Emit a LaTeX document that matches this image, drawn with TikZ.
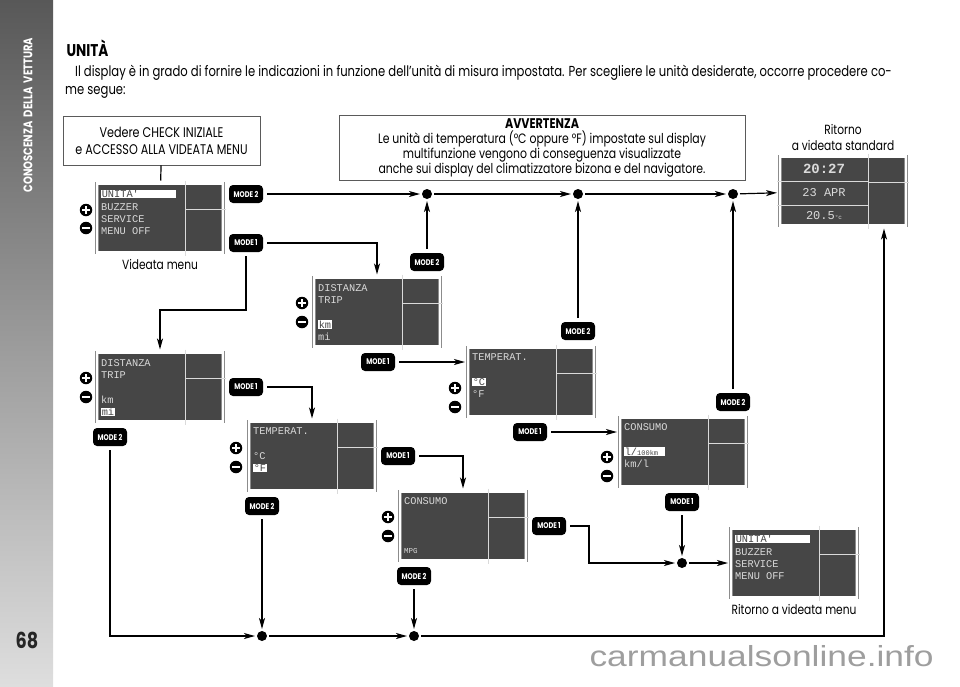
\documentclass[tikz,border=0pt]{standalone}
\usepackage{fontspec}
\setmainfont{Poppins}[FakeStretch=0.8]
\newfontfamily\lcdfont{Liberation Mono}
\newfontfamily\webfont{Liberation Sans}[FakeStretch=1.22]
\usetikzlibrary{arrows.meta,positioning,calc}
\definecolor{UmLcd}{HTML}{464646}
\definecolor{UmLcdText}{HTML}{DADADA}
\definecolor{UmFrame}{HTML}{8C8C8C}
\definecolor{UmBox}{HTML}{5A5A5A}
\definecolor{UmBarTop}{HTML}{585858}
\definecolor{UmBarBot}{HTML}{DEDEDE}
\definecolor{UmPage}{HTML}{262626}
\newcommand{\hl}[1]{{\setlength{\fboxsep}{0.6pt}\colorbox{white}{\color{UmLcd}#1}}}
% divider of a screen: vertical line plus short horizontal line on the right
\newcommand{\lcdgrid}[1]{%
  \coordinate (#1-t) at ($(#1.north west)!0.69!(#1.north east)$);
  \coordinate (#1-b) at ($(#1.south west)!0.69!(#1.south east)$);
  \coordinate (#1-r) at ($(#1.north east)!0.39!(#1.south east)$);
  \draw[lcdline] (#1-t) -- (#1-b);
  \draw[lcdline] (#1-r -| #1-t) -- (#1-r);}

\begin{document}
\begin{tikzpicture}[x=1pt,y=-1pt,
    font=\fontsize{13.3}{16}\selectfont,
    screen/.style={draw=UmFrame,double=white,double distance=2.2pt,line width=0.6pt,fill=UmLcd,minimum width=126pt,minimum height=69pt,inner sep=0pt,outer sep=3pt},
    lcdtext/.style={font=\lcdfont\fontsize{10.3}{12.3}\selectfont,text=UmLcdText,align=left,anchor=north west,inner sep=0pt},
    lcdline/.style={draw=UmLcdText,line width=0.8pt},
    badge/.style={fill=black,rounded corners=4pt,text=white,minimum width=34pt,minimum height=18pt,inner sep=1pt,font=\bfseries\fontsize{8.2}{9}\selectfont,outer sep=4pt},
    dot/.style={circle,fill=black,inner sep=0pt,minimum size=10pt,outer sep=2pt},
    arr/.style={-{Stealth[length=11pt,width=6pt,inset=3pt]},line width=1.2pt},
    link/.style={line width=1.2pt},
    note/.style={draw=UmBox,line width=0.8pt,align=center},
    pmbase/.style={circle,fill=black,inner sep=0pt,minimum size=12.5pt},
    plus/.style={pmbase,path picture={\draw[white,line width=2.2pt]
        ([xshift=-3.8pt]path picture bounding box.center) -- ([xshift=3.8pt]path picture bounding box.center)
        ([yshift=-3.8pt]path picture bounding box.center) -- ([yshift=3.8pt]path picture bounding box.center);}},
    minus/.style={pmbase,path picture={\draw[white,line width=2.2pt]
        ([xshift=-3.8pt]path picture bounding box.center) -- ([xshift=3.8pt]path picture bounding box.center);}}
  ]
  \useasboundingbox (0,0) rectangle (960,686);

  % side bar
  \fill[top color=UmBarTop,bottom color=UmBarBot] (0,0) rectangle (53,686);
  \node[rotate=90,text=white,font=\bfseries\fontsize{12.5}{12}\selectfont] (side) at (28,115) {CONOSCENZA\ \ DELLA\ \ VETTURA};
  \node[text=UmPage,font=\bfseries\fontsize{22}{22}\selectfont] (page) at (27,640) {68};

  % heading
  \node[anchor=west,font=\bfseries\fontsize{17}{17}\selectfont] (title) at (63,48) {UNITÀ};
  \node[anchor=north west,align=left,inner sep=0pt,font=\fontsize{14.5}{18}\selectfont] (intro) at (65,65)
    {\hspace*{10pt}Il display è in grado di fornire le indicazioni in funzione dell’unità di misura impostata. Per scegliere le unità desiderate, occorre procedere co-\\me segue:};

  % boxes
  \node[note,minimum width=197pt,minimum height=49pt,font=\fontsize{14}{17}\selectfont] (check) at (161.5,140.5)
    {Vedere CHECK INIZIALE\\e ACCESSO ALLA VIDEATA MENU};
  \node[note,minimum width=406pt,minimum height=63pt,font=\fontsize{13.6}{15}\selectfont] (warn) at (542,147.5)
    {{\bfseries\fontsize{14}{15}\selectfont AVVERTENZA}\\Le unità di temperatura (°C oppure °F) impostate sul display\\multifunzione vengono di conseguenza visualizzate\\anche sui display del climatizzatore bizona e del navigatore.};
  \node[align=center,font=\fontsize{13.3}{16}\selectfont] (std-lbl) at (843,137) {Ritorno\\a videata standard};

  % screens
  \node[screen] (s-menu) at (160,218) {};
  \node[screen] (s-dist1) at (377,312) {};
  \node[screen] (s-temp1) at (531,382) {};
  \node[screen] (s-cons1) at (683,452) {};
  \node[screen] (s-dist2) at (160,387) {};
  \node[screen] (s-temp2) at (312,456) {};
  \node[screen] (s-cons2) at (463,526) {};
  \node[screen] (s-back) at (794,563) {};
  \node[screen] (s-std) at (843,191) {};
  \foreach \s in {s-menu,s-dist1,s-temp1,s-cons1,s-dist2,s-temp2,s-cons2,s-back,s-std}
    {\lcdgrid{\s}}

  \node[lcdtext] (t-menu) at ($(s-menu.north west)+(7,9)$) {\hl{\makebox[74pt][l]{UNITA'}}\\BUZZER\\SERVICE\\MENU OFF};
  \node[lcdtext] (t-back) at ($(s-back.north west)+(7,9)$) {\hl{\makebox[74pt][l]{UNITA'}}\\BUZZER\\SERVICE\\MENU OFF};
  \node[lcdtext] (t-dist1) at ($(s-dist1.north west)+(7,10)$) {DISTANZA\\TRIP\\\mbox{}\\\hl{km}\\mi};
  \node[lcdtext] (t-dist2) at ($(s-dist2.north west)+(7,10)$) {DISTANZA\\TRIP\\\mbox{}\\km\\\hl{mi}};
  \node[lcdtext] (t-temp1) at ($(s-temp1.north west)+(7,9)$) {TEMPERAT.\\\mbox{}\\\hl{°C}\\°F};
  \node[lcdtext] (t-temp2) at ($(s-temp2.north west)+(7,9)$) {TEMPERAT.\\\mbox{}\\°C\\\hl{°F}};
  \node[lcdtext] (t-cons1) at ($(s-cons1.north west)+(7,9)$) {CONSUMO\\\mbox{}\\\hl{l/{\fontsize{7}{8}\selectfont 100km}\hspace{6pt}}\\km/l};
  \node[lcdtext] (t-cons2) at ($(s-cons2.north west)+(7,9)$) {CONSUMO};
  \node[lcdtext,font=\lcdfont\fontsize{7.5}{8}\selectfont] (t-mpg) at ($(s-cons2.south west)+(7,-15)$) {MPG};
  \draw[lcdline] (s-std.west |- 0,181) -- (s-std-t |- 0,181);
  \draw[lcdline] (s-std.west |- 0,205) -- (s-std-t |- 0,205);
  \node[lcdtext,anchor=center,font=\lcdfont\bfseries\fontsize{14}{14}\selectfont] (t-time) at (824,169) {20:27};
  \node[lcdtext,anchor=center,font=\lcdfont\fontsize{12}{14}\selectfont] (t-date) at (824,193) {23 APR};
  \node[lcdtext,anchor=center,font=\lcdfont\fontsize{12}{14}\selectfont] (t-temp) at (824,216) {20.5{\fontsize{6}{7}\selectfont °c}};

  \node[below=0pt of s-menu] (menu-lbl) {Videata menu};
  \node[below=0pt of s-back] (back-lbl) {Ritorno a videata menu};

  % plus / minus keys
  \node[plus] (p1) at (86,210) {};  \node[minus] (m1) at (86,228) {};
  \node[plus] (p2) at (302,303) {}; \node[minus] (m2) at (302,322) {};
  \node[plus] (p3) at (455,388) {}; \node[minus] (m3) at (455,407) {};
  \node[plus] (p4) at (607,457) {}; \node[minus] (m4) at (607,476) {};
  \node[plus] (p5) at (86,378) {};  \node[minus] (m5) at (86,397) {};
  \node[plus] (p6) at (236,448) {}; \node[minus] (m6) at (236,467) {};
  \node[plus] (p7) at (388,517) {}; \node[minus] (m7) at (388,536) {};

  % mode keys
  \node[badge] (k2a) at (246,194) {MODE 2};
  \node[badge] (k1a) at (246,243) {MODE 1};
  \node[badge] (k2b) at (427,262) {MODE 2};
  \node[badge] (k1b) at (378,362) {MODE 1};
  \node[badge] (k2c) at (578,331) {MODE 2};
  \node[badge] (k1c) at (530,432) {MODE 1};
  \node[badge] (k2d) at (733,402) {MODE 2};
  \node[badge] (k1d) at (682,502) {MODE 1};
  \node[badge] (k1e) at (246,387) {MODE 1};
  \node[badge] (k2e) at (110,437) {MODE 2};
  \node[badge] (k1f) at (398,456) {MODE 1};
  \node[badge] (k2f) at (262,506) {MODE 2};
  \node[badge] (k1g) at (549,526) {MODE 1};
  \node[badge] (k2g) at (414,576) {MODE 2};

  % junctions
  \node[dot] (d1) at (427,194) {};
  \node[dot] (d2) at (578,194) {};
  \node[dot] (d3) at (733,194) {};
  \node[dot] (d4) at (682,563) {};
  \node[dot] (d5) at (262,636) {};
  \node[dot] (d6) at (414,636) {};
  \coordinate (ret) at (884,636);

  % connectors
  \draw[link] (check) -- (s-menu);
  \draw[arr] (k2a) -- (d1);
  \draw[arr] (d1) -- (d2);
  \draw[arr] (d2) -- (d3);
  \draw[arr] (d3) -- (s-std);
  \draw[arr] (k2b) -- (d1);
  \draw[arr] (k2c) -- (d2);
  \draw[arr] (k2d) -- (d3);
  \draw[arr] (k1a) -| (s-dist1);
  \draw[arr] (k1a) -- (k1a |- 0,310) -| (s-dist2);
  \draw[arr] (k1b) -- (k1b -| s-temp1.west);
  \draw[arr] (k1c) -- (k1c -| s-cons1.west);
  \draw[arr] (k1d) -- (d4);
  \draw[arr] (k1e) -| (s-temp2);
  \draw[arr] (k1f) -| (s-cons2);
  \draw[arr] (k1g) -- ++(40,0) |- (d4);
  \draw[arr] (d4) -- (s-back);
  \draw[arr] (k2e) |- (d5);
  \draw[arr] (k2f) -- (d5);
  \draw[arr] (k2g) -- (d6);
  \draw[arr] (d5) -- (d6);
  \draw[arr] (d6) -- (ret) -- (ret |- s-std.south);

  % watermark
  \node[anchor=west,text=black!38,font=\webfont\fontsize{29}{30}\selectfont] (web) at (586,656) {carmanualsonline.info};
\end{tikzpicture}
\end{document}
